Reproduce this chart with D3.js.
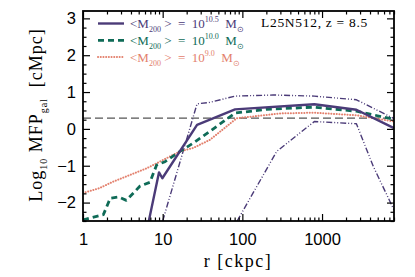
<!DOCTYPE html>
<html>
<head>
<meta charset="utf-8">
<script src="https://cdn.jsdelivr.net/npm/d3@7"></script>
<style>
  body { margin: 0; background: #fff; }
  svg { display: block; }
</style>
</head>
<body>
<svg></svg>
<script>
// Chart size and plot box
const width = 415
const height = 277
const margin = {top: 11, right: 21, bottom: 56, left: 83}

// Radial distance [ckpc] and log10 MFP values
const rSolid = [6.7, 9.0, 9.9, 27, 81, 800, 2700, 8000]
const mfpSolid = [-2.5, -1.18, -1.34, 0.11, 0.53, 0.67, 0.52, 0.02]

const rDashed = [1, 1.8, 2.2, 2.8, 3.5, 4.3, 5.2, 6.9, 8.4, 10.7, 16.5, 24, 39, 81, 200, 780, 2700, 8000]
const mfpDashed = [-2.47, -2.33, -1.88, -1.85, -1.94, -1.74, -1.55, -1.45, -0.98, -0.89, -0.61, -0.39, -0.07, 0.43, 0.53, 0.59, 0.48, 0.26]

const rDotted = [1, 1.6, 2.4, 3.9, 6.3, 10.2, 16.5, 24, 39, 85, 300, 800, 2700, 8000]
const mfpDotted = [-1.74, -1.61, -1.43, -1.25, -1.07, -0.84, -0.61, -0.52, -0.30, 0.29, 0.42, 0.44, 0.37, 0.2]

const rUpper = [10, 27, 39, 81, 245, 800, 2700, 8000]
const mfpUpper = [-2.5, 0.68, 0.72, 0.89, 0.92, 0.89, 0.79, 0.28]

const rLower = [86, 270, 800, 2700, 4400, 8000]
const mfpLower = [-2.5, -0.61, 0.2, 0.14, -1.02, -2.2]

const refLine = 0.29

const xMajor = [1, 10, 100, 1000]
const yMajor = [-2, -1, 0, 1, 2, 3]

const legendLabels = ['10.5', '10.0', '9.0']
const colors = ['#4b3b78', '#0f6b57', '#e3806d']

const svg = d3.select('svg')
    .attr('width', width)
    .attr('height', height)

const xScale = d3.scaleLog()
    .domain([1, 8000])
    .range([margin.left, width - margin.right])

const yScale = d3.scaleLinear()
    .domain([-2.5, 3.2])
    .range([height - margin.bottom, margin.top])

// minor ticks
let xMinor = []
for (let d = 1; d <= 1000; d *= 10) {
    for (let k = 2; k <= 9; k++) {
        if (d * k <= 8000) xMinor.push(d * k)
    }
}
let yMinor = d3.range(-2.5, 3.21, 0.25).filter(v => !yMajor.includes(v))

svg.append('clipPath').attr('id', 'plot')
    .append('rect')
    .attr('x', margin.left).attr('y', margin.top)
    .attr('width', width - margin.left - margin.right)
    .attr('height', height - margin.top - margin.bottom)

const plot = svg.append('g').attr('clip-path', 'url(#plot)')

// reference dashed line
plot.append('line')
    .attr('x1', xScale(1)).attr('x2', xScale(8000))
    .attr('y1', yScale(refLine)).attr('y2', yScale(refLine))
    .attr('stroke', '#555').attr('stroke-width', 1.2)
    .attr('stroke-dasharray', '8,4')

let line = d3.line()
    .x(d => xScale(d[0]))
    .y(d => yScale(d[1]))

let drawCurve = (rs, vs, color, w, dash, cap) => {
    plot.append('path')
        .datum(rs.map((r, i) => [r, vs[i]]))
        .attr('d', line)
        .attr('fill', 'none')
        .attr('stroke', color)
        .attr('stroke-width', w)
        .attr('stroke-dasharray', dash)
        .attr('stroke-linecap', cap || 'butt')
        .attr('stroke-linejoin', 'round')
}

drawCurve(rUpper, mfpUpper, colors[0], 1.4, '6,2,1,2,1,2')
drawCurve(rLower, mfpLower, colors[0], 1.4, '6,2,1,2,1,2')
drawCurve(rDotted, mfpDotted, colors[2], 2, '0.1,2.6', 'round')
drawCurve(rDashed, mfpDashed, colors[1], 2.8, '6,4')
drawCurve(rSolid, mfpSolid, colors[0], 2.4, null)

// axes: inward ticks on all four sides
let addAxis = (axis, transform, labels) => {
    let g = svg.append('g')
        .attr('transform', transform)
        .call(axis)
    g.select('.domain').remove()
    g.selectAll('line').attr('stroke', '#000').attr('stroke-width', 1.2)
    g.selectAll('text')
        .attr('font-family', '"Liberation Sans", Arial, sans-serif')
        .attr('font-size', 16.5)
        .attr('fill', '#000')
    if (!labels) g.selectAll('text').remove()
    return g
}

let bottomY = height - margin.bottom
addAxis(d3.axisBottom(xScale).tickValues(xMajor).tickSize(-7).tickPadding(12)
    .tickFormat(d3.format('d')), `translate(0,${bottomY})`, true)
addAxis(d3.axisBottom(xScale).tickValues(xMinor).tickSize(-3.5), `translate(0,${bottomY})`, false)
addAxis(d3.axisTop(xScale).tickValues(xMajor).tickSize(-7), `translate(0,${margin.top})`, false)
addAxis(d3.axisTop(xScale).tickValues(xMinor).tickSize(-3.5), `translate(0,${margin.top})`, false)

addAxis(d3.axisLeft(yScale).tickValues(yMajor).tickSize(-7).tickPadding(7)
    .tickFormat(d3.format('d')), `translate(${margin.left},0)`, true)
addAxis(d3.axisLeft(yScale).tickValues(yMinor).tickSize(-3.5), `translate(${margin.left},0)`, false)
addAxis(d3.axisRight(yScale).tickValues(yMajor).tickSize(-7), `translate(${width - margin.right},0)`, false)
addAxis(d3.axisRight(yScale).tickValues(yMinor).tickSize(-3.5), `translate(${width - margin.right},0)`, false)

// frame
svg.append('rect')
    .attr('x', margin.left).attr('y', margin.top)
    .attr('width', width - margin.left - margin.right)
    .attr('height', height - margin.top - margin.bottom)
    .attr('fill', 'none').attr('stroke', '#000').attr('stroke-width', 1.8)

const serif = '"Liberation Serif", "Times New Roman", serif'

// axis titles
svg.append('text')
    .attr('x', 238).attr('y', 267)
    .attr('text-anchor', 'middle')
    .attr('font-family', serif).attr('font-size', 18)
    .attr('letter-spacing', 1.5)
    .style('white-space', 'pre')
    .text('r [ckpc]')

let yTitle = svg.append('text')
    .attr('transform', 'translate(42,115) rotate(-90)')
    .attr('text-anchor', 'middle')
    .attr('font-family', serif).attr('font-size', 18)
    .attr('letter-spacing', 1)
    .style('white-space', 'pre')
yTitle.append('tspan').text('Log')
yTitle.append('tspan').attr('font-size', 10).attr('dy', 5).text('10')
yTitle.append('tspan').attr('dy', -5).text(' MFP')
yTitle.append('tspan').attr('font-size', 10).attr('dy', 5).text('gal')
yTitle.append('tspan').attr('dy', -5).text('  [cMpc]')

// title in the corner
svg.append('text')
    .attr('x', 261).attr('y', 26.5)
    .attr('font-family', serif).attr('font-size', 13.5)
    .attr('letter-spacing', 0.7)
    .style('white-space', 'pre')
    .text('L25N512, z = 8.5')

// legend
const legendDash = [null, '6,4', '0.1,2.6']
const legendWidth = [2.4, 2.8, 2]
legendLabels.forEach((lab, i) => {
    let y = 23.5 + i * 16.8
    svg.append('line')
        .attr('x1', 98).attr('x2', 124)
        .attr('y1', y).attr('y2', y)
        .attr('stroke', colors[i])
        .attr('stroke-width', legendWidth[i])
        .attr('stroke-dasharray', legendDash[i])
        .attr('stroke-linecap', i == 2 ? 'round' : 'butt')
    let t = svg.append('text')
        .attr('x', 130).attr('y', y + 4.5)
        .attr('font-family', serif).attr('font-size', 13)
        .attr('fill', colors[i])
        .style('white-space', 'pre')
    t.append('tspan').text('<M')
    t.append('tspan').attr('font-size', 8).attr('dy', 4).text('200')
    t.append('tspan').attr('dy', -4).text(' >  =  10')
    t.append('tspan').attr('font-size', 8).attr('dy', -6).text(lab)
    t.append('tspan').attr('dy', 6).text('  M')
    t.append('tspan').attr('font-size', 8).attr('dy', 4).text('⊙')
})
</script>
</body>
</html>
